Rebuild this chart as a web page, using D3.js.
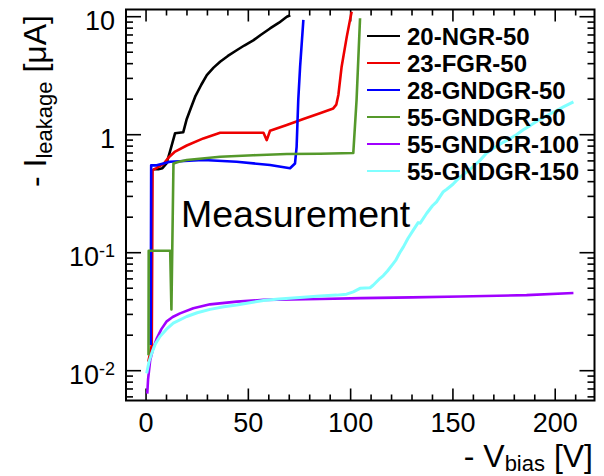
<!DOCTYPE html>
<html>
<head>
<meta charset="utf-8">
<script src="https://cdn.jsdelivr.net/npm/d3@7"></script>
<style>
  body { margin: 0; background: #fff; }
  svg { display: block; font-family: "Liberation Sans", Arial, Helvetica, sans-serif; }
</style>
</head>
<body>
<div id="chart"></div>
<script>
// IV curves, values: [V bias, I leakage (uA)]
const ngr20 = [[3.6, 0.51], [6, 0.51], [8, 0.52], [10, 0.57], [12, 0.75], [14.2, 1.03], [18.2, 1.05],
  [19.9, 1.36], [22, 1.7], [24, 2.1], [27, 2.65], [29.7, 3.2], [33, 3.7], [36.2, 4.15], [40, 4.65],
  [44.3, 5.2], [48, 5.7], [52.4, 6.3], [56, 7.0], [60.6, 7.95], [65, 8.9], [68.8, 10], [70.5, 10.3]];
const fgr23 = [[1.1, 0.0119], [2.8, 0.0165], [3.2, 0.5], [5, 0.52], [8.5, 0.565], [11, 0.64], [14.2, 0.72],
  [19.9, 0.81], [28, 0.93], [36.2, 1.04], [57.4, 1.04], [59, 0.9], [60.6, 1.08], [68.8, 1.21],
  [76.9, 1.36], [85, 1.52], [91.5, 1.67], [93, 1.8], [94, 2.17], [95.6, 3.77], [98.1, 6.75], [100, 10], [100.5, 11]];
const gndgr28 = [[2.3, 0.0165], [2.5, 0.55], [5.2, 0.55], [11.7, 0.59], [28, 0.61], [44.3, 0.59],
  [60.6, 0.553], [70.4, 0.52], [72.8, 0.57], [73.6, 0.79], [74.4, 1.97], [75.3, 3.77], [76.9, 9.4]];
const gndgr55 = [[1.2, 0.0135], [1.3, 0.104], [11.8, 0.104], [12.4, 0.033], [13.4, 0.57], [16, 0.59],
  [19.9, 0.61], [36.2, 0.65], [52.4, 0.67], [68.8, 0.686], [85, 0.69], [101.3, 0.7], [102.9, 1.97], [104.6, 9.7]];
const gndgr55_100 = [[0.6, 0.0064], [1, 0.0085], [2, 0.0122], [3.5, 0.0155], [5.2, 0.0187], [7.5, 0.0225],
  [10.1, 0.0262], [13, 0.0285], [16.6, 0.0306], [23.1, 0.0338], [31.3, 0.0365], [44.3, 0.0385],
  [57.4, 0.0398], [85, 0.0405], [105, 0.0412], [130, 0.0418], [153.5, 0.0425], [186, 0.0437], [208.9, 0.0455]];
const gndgr55_150 = [[0.3, 0.0095], [1.5, 0.012], [2.8, 0.0141], [4.5, 0.0168], [6.8, 0.0195], [10, 0.0225],
  [13.3, 0.0253], [19.9, 0.0288], [25, 0.031], [31.3, 0.0331], [38, 0.0348], [44.3, 0.036], [50, 0.0375],
  [57.4, 0.0393], [65, 0.0405], [76.9, 0.042], [85, 0.043], [93.2, 0.0437], [98, 0.0445], [101.3, 0.0466],
  [104.6, 0.0499], [109.5, 0.0505], [111, 0.053], [114.4, 0.0607], [116, 0.064], [118, 0.07], [120.9, 0.0813],
  [122, 0.086], [124, 0.1], [125.8, 0.112], [128, 0.132], [130.7, 0.156], [133, 0.18], [134, 0.178],
  [137.2, 0.216], [140, 0.25], [142, 0.27], [145.3, 0.329], [147, 0.345], [150, 0.38], [151.8, 0.41],
  [155, 0.46], [158, 0.5], [161, 0.56], [163, 0.6], [166.5, 0.7], [170, 0.77], [174, 0.85], [178, 0.93],
  [181, 1.0], [184.4, 1.1], [188, 1.2], [192, 1.33], [196, 1.45], [200, 1.58], [204, 1.72], [208.9, 1.9]];

const seriesNames = ["20-NGR-50", "23-FGR-50", "28-GNDGR-50", "55-GNDGR-50", "55-GNDGR-100", "55-GNDGR-150"];
const seriesData = [ngr20, fgr23, gndgr28, gndgr55, gndgr55_100, gndgr55_150];
const seriesColors = ["#000000", "#ee0000", "#0000ff", "#55992b", "#a000ff", "#80ffff"];

const xTicks = [0, 50, 100, 150, 200];
const xTickLabels = ["0", "50", "100", "150", "200"];
const yTicks = [0.01, 0.1, 1, 10];
const yTickLabels = [["10", "-2"], ["10", "-1"], ["1", ""], ["10", ""]];

const W = 604, H = 476;
const padL = 126, padR = 594.5, padT = 9.5, padB = 400.5;

const x = d3.scaleLinear().domain([-9.8, 219.2]).range([padL, padR]);
const y = d3.scaleLog().domain([0.00559, 11.51]).range([padB, padT]);

const svg = d3.select("#chart").append("svg")
    .attr("width", W)
    .attr("height", H);

svg.append("clipPath").attr("id", "clip")
  .append("rect")
    .attr("x", padL).attr("y", padT)
    .attr("width", padR - padL).attr("height", padB - padT);

// minor ticks every 10 V, log minors 2..9
const xMinor = d3.range(0, 220, 10).filter(d => d % 50 !== 0);
const yMinor = [];
[0.001, 0.01, 0.1, 1].forEach(dec => {
    for (let k = 2; k <= 9; k++) {
        let v = dec * k;
        if (v > y.domain()[0] && v < y.domain()[1]) yMinor.push(v);
    }
});

const ticks = svg.append("g").attr("stroke", "#000").attr("stroke-width", 1.6);
function xTick(vals, len) {
    ticks.append("g").selectAll("line").data(vals).join("line")
        .attr("x1", d => x(d)).attr("x2", d => x(d))
        .attr("y1", padB).attr("y2", padB - len);
    ticks.append("g").selectAll("line").data(vals).join("line")
        .attr("x1", d => x(d)).attr("x2", d => x(d))
        .attr("y1", padT).attr("y2", padT + len);
}
function yTick(vals, len) {
    ticks.append("g").selectAll("line").data(vals).join("line")
        .attr("y1", d => y(d)).attr("y2", d => y(d))
        .attr("x1", padL).attr("x2", padL + len);
    ticks.append("g").selectAll("line").data(vals).join("line")
        .attr("y1", d => y(d)).attr("y2", d => y(d))
        .attr("x1", padR).attr("x2", padR - len);
}
xTick(xTicks, 12);
xTick(xMinor, 6);
yTick(yTicks, 15);
yTick(yMinor, 7);

// curves
const line = d3.line()
    .x(d => x(d[0]))
    .y(d => y(d[1]));

svg.append("g").attr("clip-path", "url(#clip)")
  .selectAll("path")
  .data(seriesData)
  .join("path")
    .attr("d", d => line(d))
    .attr("fill", "none")
    .attr("stroke", (_, i) => seriesColors[i])
    .attr("stroke-width", (_, i) => i === 5 ? 3 : 2.6)
    .attr("stroke-linejoin", "round");

// frame
svg.append("rect")
    .attr("x", padL).attr("y", padT)
    .attr("width", padR - padL).attr("height", padB - padT)
    .attr("fill", "none")
    .attr("stroke", "#000")
    .attr("stroke-width", 2);

// tick labels
svg.selectAll(".xlab")
  .data(xTicks)
  .join("text")
    .attr("class", "xlab")
    .attr("x", d => x(d))
    .attr("y", 432)
    .attr("text-anchor", "middle")
    .attr("font-size", 27)
    .text((_, i) => xTickLabels[i]);

const ylab = svg.selectAll(".ylab")
  .data(yTicks)
  .join("text")
    .attr("class", "ylab")
    .attr("x", 115)
    .attr("y", d => y(d) + 13.5)
    .attr("text-anchor", "end")
    .attr("font-size", 27);
ylab.append("tspan").text((_, i) => yTickLabels[i][0]);
ylab.append("tspan")
    .attr("font-size", 18)
    .attr("dy", -9)
    .text((_, i) => yTickLabels[i][1]);

// axis titles
const xt = svg.append("text")
    .attr("x", 593).attr("y", 467)
    .attr("text-anchor", "end")
    .attr("font-size", 32);
xt.append("tspan").text("- V");
xt.append("tspan").attr("font-size", 22).attr("dy", 4).text("bias");
xt.append("tspan").attr("dy", -4).text(" [V]");

const yt = svg.append("text")
    .attr("transform", "translate(46,187) rotate(-90)")
    .attr("font-size", 32);
yt.append("tspan").text("- I");
yt.append("tspan").attr("font-size", 22).attr("dy", 6).text("leakage");
yt.append("tspan").attr("dy", -6).text(" [\u03bcA]");

svg.append("text")
    .attr("x", 181).attr("y", 226.7)
    .attr("font-size", 37.5)
    .text("Measurement");

// legend
const leg = svg.selectAll(".leg")
  .data(seriesNames)
  .join("g")
    .attr("class", "leg")
    .attr("transform", (_, i) => `translate(0,${45 + 27 * i})`);
leg.append("line")
    .attr("x1", 367).attr("x2", 400)
    .attr("y1", -9).attr("y2", -9)
    .attr("stroke", (_, i) => seriesColors[i])
    .attr("stroke-width", 2);
leg.append("text")
    .attr("x", 407)
    .attr("font-size", 24)
    .attr("font-weight", "bold")
    .text(d => d);
</script>
</body>
</html>
